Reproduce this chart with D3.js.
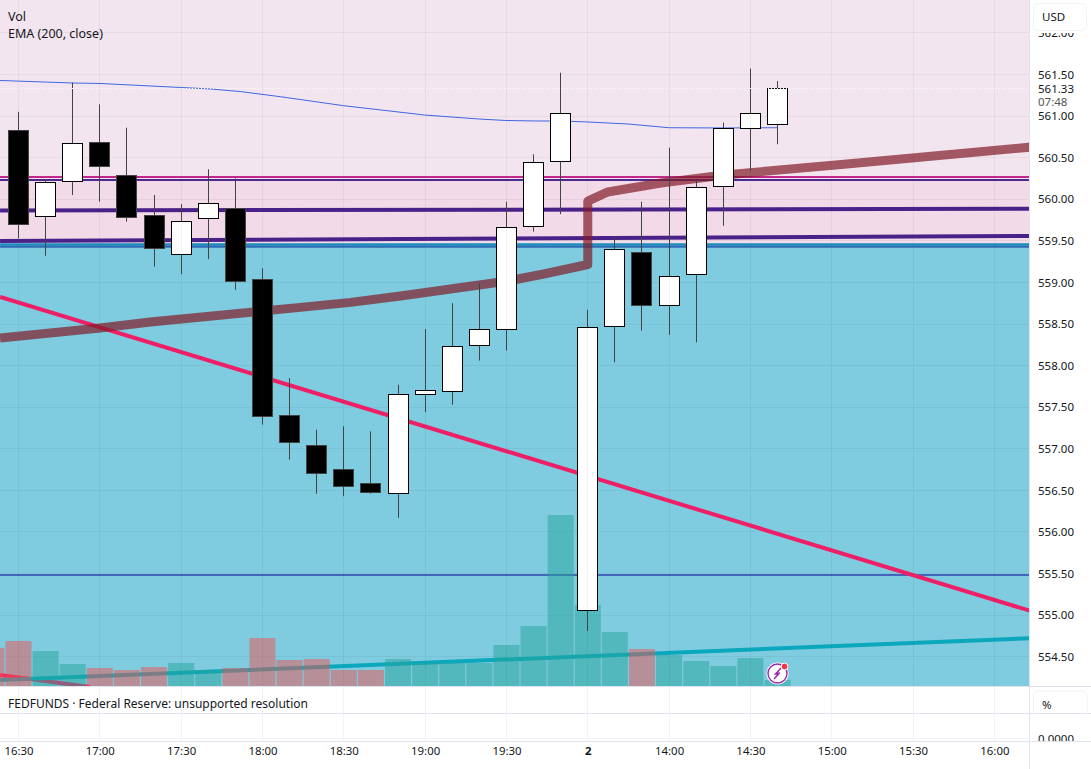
<!DOCTYPE html>
<meta charset="utf-8">
<style>
html, body { margin: 0; padding: 0; background: #fff; }
svg { display: block; }
text { font-family: "Noto Sans", sans-serif; fill: #131722; }
.price-axis text { font-size: 11.5px; }
.time-axis text { font-size: 11.4px; }
.legend { font-size: 12.5px; }
.legend-small { font-size: 12px; }
</style>
<svg width="1091" height="769"></svg>
<script src="https://d3js.org/d3.v7.min.js"></script>
<script>
// candles, one per 10 minutes, prices
var opens  = [560.83,559.79,560.20,560.69,560.29,559.81,559.33,559.76,559.89,559.04,557.41,557.05,556.75,556.59,556.45,557.65,557.68,558.24,558.43,559.67,560.44,555.05,558.46,559.37,558.72,559.09,560.15,560.84,560.89];
var highs  = [561.05,560.24,561.40,561.14,560.86,560.05,559.94,560.36,560.25,559.17,557.85,557.23,557.27,557.21,557.77,558.44,558.75,558.99,559.97,560.54,561.52,558.67,559.55,559.97,560.62,560.22,560.92,561.57,561.42];
var lows   = [559.53,559.32,560.05,559.97,559.73,559.19,559.10,559.28,558.91,557.29,556.87,556.46,556.43,556.46,556.17,557.44,557.53,558.06,558.18,559.61,559.82,554.81,558.04,558.42,558.37,558.28,559.68,560.34,560.66];
var closes = [559.69,560.20,560.68,560.38,559.77,559.40,559.74,559.95,559.00,557.38,557.07,556.69,556.54,556.47,557.66,557.70,558.24,558.44,559.67,560.44,561.04,558.46,559.40,558.72,559.08,560.14,560.85,561.04,561.33];
var candleIndex = d3.range(opens.length);

// volume, including the cut-off bar left of the first candle
var volumeIndex = [-1].concat(candleIndex);
var volumes = [38,45,35,22,18,16,19,23,16,18,48,26,27,16,16,27,23,23,23,41,60,171,81,54,37,31,25,20,28,6];
var volumeUp = [0,0,1,1,0,0,0,1,1,0,0,0,0,0,0,1,1,1,1,1,1,1,1,1,0,1,1,1,1,1];

// horizontal price levels
var levelPrices = [560.267,560.231,555.483];
var levelColors = ["#c2288c","#4a2a92","#4565bd"];
var levelWidths = [2,2,2];

// zones behind the candles
var zoneTop = 562.5, zoneMid = 560.25, zoneLow = 559.43, zoneBottom = 554.0;

// drawn lines, x is candle index
var ema = [[-0.68,561.427],[1.98,561.397],[3.01,561.391],[5.97,561.343],[7.08,561.325],[8.18,561.294],[9.66,561.232],[11.99,561.124],[14.98,561.012],[16.97,560.964],[17.97,560.946],[19.08,560.94],[20,560.94],[21,560.928],[22.48,560.904],[24,560.859],[26.02,560.856],[28,560.859]];
var brown = [[-0.68,558.332],[3.01,558.452],[4.86,558.524],[9,558.656],[10.4,558.70],[12.25,558.76],[14.09,558.837],[15.94,558.92],[18.05,559.017],[19.38,559.101],[21,559.215],[21,559.978],[21.74,560.087],[23.7,560.195],[26.02,560.291],[30.35,560.417],[37.55,560.633]];
var purpleA = [[-0.68,559.864],[37.55,559.885]];
var purpleB = [[-0.68,559.498],[37.55,559.558]];
var tealBand = [[-0.68,559.455],[37.55,559.455]];
var blueBand = [[-0.68,559.43],[37.55,559.43]];
var pinkTrend = [[-0.68,558.825],[37.55,555.03]];
var pinkLow = [[-0.68,554.281],[2.64,554.137]];
var tealTrend = [[-0.68,554.221],[37.55,554.726]];

// axis labels
var priceTicks = [554.5,555,555.5,556,556.5,557,557.5,558,558.5,559,559.5,560,560.5,561,561.5,562];
var timeTicks = [0,3,6,9,12,15,18,21,24,27,30,33,36];
var timeLabels = ["16:30","17:00","17:30","18:00","18:30","19:00","19:30","2","14:00","14:30","15:00","15:30","16:00"];
var lastPrice = 561.33, countdown = "07:48";

var svg = d3.select("svg"),
    width = +svg.attr("width"),
    height = +svg.attr("height"),
    paneRight = 1030, paneBottom = 686, lowerBottom = 741;

var x = d3.scaleLinear().domain([0,36]).range([18.5,994.4]);
var y = d3.scaleLinear().domain([554.5,561]).range([656.8,116]);
var yVol = d3.scaleLinear().domain([0,171]).range([paneBottom,515]);
var snap = function(v) { return Math.round(v - 0.5) + 0.5; };
var edge = function(p) { return Math.round(y(p) - 0.1); };

svg.append("clipPath").attr("id","pane").append("rect")
    .attr("width",paneRight).attr("height",paneBottom);

var pane = svg.append("g").attr("clip-path","url(#pane)");

// zones
pane.append("rect").attr("width",paneRight).attr("y",y(zoneTop)).attr("height",y(zoneMid)-y(zoneTop)).attr("fill","#f3e5ef");
pane.append("rect").attr("width",paneRight).attr("y",y(zoneMid)).attr("height",y(zoneLow)-y(zoneMid)).attr("fill","#f2dae9");
pane.append("rect").attr("width",paneRight).attr("y",y(zoneLow)).attr("height",y(zoneBottom)-y(zoneLow)).attr("fill","#7fcbe0");

// grid
pane.selectAll(".hgrid").data(priceTicks).enter().append("line")
    .attr("x1",0).attr("x2",paneRight)
    .attr("y1",function(d) { return snap(y(d)); }).attr("y2",function(d) { return snap(y(d)); })
    .attr("stroke","#2a2e39").attr("stroke-opacity",0.06);
svg.selectAll(".vgrid").data(timeTicks).enter().append("line")
    .attr("x1",function(d) { return snap(x(d)); }).attr("x2",function(d) { return snap(x(d)); })
    .attr("y1",0).attr("y2",lowerBottom)
    .attr("stroke","#2a2e39").attr("stroke-opacity",0.06);

var line = d3.line().x(function(d) { return x(d[0]); }).y(function(d) { return y(d[1]); });
function drawLine(pts, color, w, op) {
  pane.append("path").attr("d",line(pts)).attr("fill","none")
      .attr("stroke",color).attr("stroke-width",w)
      .attr("stroke-opacity",op === undefined ? 1 : op)
      .attr("stroke-linejoin","round");
}

// levels and trend lines
pane.selectAll(".level").data(levelPrices).enter().append("line")
    .attr("x1",0).attr("x2",paneRight)
    .attr("y1",function(d) { return y(d); }).attr("y2",function(d) { return y(d); })
    .attr("stroke",function(d,i) { return levelColors[i]; })
    .attr("stroke-width",function(d,i) { return levelWidths[i]; });
drawLine(purpleA,"#4a2189",4);
drawLine(purpleB,"#4a2189",4);
drawLine(tealBand,"#1590bd",2.4);
drawLine(blueBand,"#2e6cb6",2.4);
drawLine(pinkTrend,"#ee1f66",4);
drawLine(pinkLow,"#ee1f66",4);
drawLine(tealTrend,"#0ba7bd",4);
drawLine(brown,"#801b26",9,0.7);
drawLine(ema,"#3f66e0",1);

// volume
pane.selectAll(".vol").data(volumes).enter().append("rect")
    .attr("x",function(d,i) { return x(volumeIndex[i]) - 13; })
    .attr("width",26)
    .attr("y",function(d) { return yVol(d); })
    .attr("height",function(d) { return paneBottom - yVol(d); })
    .attr("fill",function(d,i) { return volumeUp[i] ? "#26a69a" : "#ef5350"; })
    .attr("fill-opacity",0.5);

// candles
var candle = pane.selectAll(".candle").data(candleIndex).enter().append("g");
candle.append("line")
    .attr("x1",function(i) { return snap(x(i)); }).attr("x2",function(i) { return snap(x(i)); })
    .attr("y1",function(i) { return y(highs[i]); }).attr("y2",function(i) { return y(lows[i]); })
    .attr("stroke","#434343");
candle.append("rect")
    .attr("x",function(i) { return snap(x(i)) - 10; })
    .attr("width",20)
    .attr("y",function(i) { return edge(Math.max(opens[i],closes[i])) + 0.5; })
    .attr("height",function(i) {
      return Math.max(2,edge(Math.min(opens[i],closes[i])) - edge(Math.max(opens[i],closes[i])) - 1);
    })
    .attr("fill",function(i) { return closes[i] >= opens[i] ? "#fff" : "#000"; })
    .attr("stroke",function(i) { return closes[i] >= opens[i] ? "#000" : "#434343"; });

// last price line
pane.append("line").attr("x1",0).attr("x2",paneRight)
    .attr("y1",snap(y(lastPrice))).attr("y2",snap(y(lastPrice)))
    .attr("stroke","#fff").attr("stroke-dasharray","1 2");

// bolt badge
var badge = svg.append("g").attr("transform","translate(777.5,673.5)");
badge.append("circle").attr("r",11).attr("fill","#fff");
badge.append("circle").attr("r",9.5).attr("fill","#fff").attr("stroke","#9c27b0").attr("stroke-width",1.4);
badge.append("path").attr("d","M3.5,-5.5 L-2,0.5 L1,0.5 L-3.5,5.5 M-2.5,0.5 L2.5,-0.5").attr("fill","none").attr("stroke","#9c27b0").attr("stroke-width",1.5);
badge.append("circle").attr("cx",7).attr("cy",-7).attr("r",3.4).attr("fill","#f23645").attr("stroke","#fff");

// legends
svg.append("text").attr("class","legend").attr("x",8).attr("y",21).text("Vol");
svg.append("text").attr("class","legend").attr("x",8).attr("y",38).text("EMA (200, close)");
svg.append("text").attr("class","legend-small").attr("x",8).attr("y",708).text("FEDFUNDS · Federal Reserve: unsupported resolution");

// price axis
var priceAxis = d3.axisRight(y).tickValues(priceTicks).tickSize(0).tickPadding(0).tickFormat(d3.format(".2f"));
svg.append("g").attr("class","price-axis").attr("transform","translate(1038,0)").call(priceAxis)
    .call(function(g) { g.select(".domain").remove(); })
    .call(function(g) { g.selectAll("text").attr("fill","#131722"); });
svg.append("text").attr("x",1038).attr("y",y(lastPrice)+4).attr("font-size",11.5).text(d3.format(".2f")(lastPrice));
svg.append("text").attr("x",1038).attr("y",106).attr("font-size",11.5).style("fill","#555").text(countdown);
svg.append("text").attr("x",1038).attr("y",742.5).attr("font-size",11.5).text("0.0000");

// USD button, it hides the top half of the 562.00 label
svg.append("rect").attr("x",1031).attr("y",0).attr("width",60).attr("height",33).attr("fill","#fff");
svg.append("rect").attr("x",1033.5).attr("y",3.5).attr("width",53).attr("height",27).attr("rx",5)
    .attr("fill","#fff").attr("stroke","#f0f3fa");
svg.append("text").attr("x",1042).attr("y",21).attr("font-size",11.5).text("USD");

// lower pane
svg.append("line").attr("x1",0).attr("x2",paneRight).attr("y1",738.5).attr("y2",738.5).attr("stroke","#f0f3fa");
svg.append("rect").attr("x",0).attr("y",lowerBottom).attr("width",width).attr("height",height-lowerBottom).attr("fill","#fff");
svg.append("path").attr("d","M1033.5,713 V696 a5,5 0 0 1 5,-5 H1082 a5,5 0 0 1 5,5 V713").attr("fill","#fff").attr("stroke","#f0f3fa");
svg.append("text").attr("x",1042).attr("y",709).attr("font-size",11.5).text("%");

// time axis
var timeAxis = d3.axisBottom(x).tickValues(timeTicks).tickSize(0).tickPadding(0)
    .tickFormat(function(d,i) { return timeLabels[i]; });
svg.append("g").attr("class","time-axis").attr("transform","translate(0,747)").call(timeAxis)
    .call(function(g) { g.select(".domain").remove(); })
    .call(function(g) { g.selectAll("text").style("font-weight",function(d,i) { return timeLabels[i] === "2" ? "700" : "400"; }); });

// separators
var seps = [[0,686.5,width,686.5],[0,713.5,width,713.5],[0,741.5,width,741.5],[1029.5,0,1029.5,height]];
svg.selectAll(".sep").data(seps).enter().append("line")
    .attr("x1",function(d) { return d[0]; }).attr("y1",function(d) { return d[1]; })
    .attr("x2",function(d) { return d[2]; }).attr("y2",function(d) { return d[3]; })
    .attr("stroke","#e0e3eb");
</script>
